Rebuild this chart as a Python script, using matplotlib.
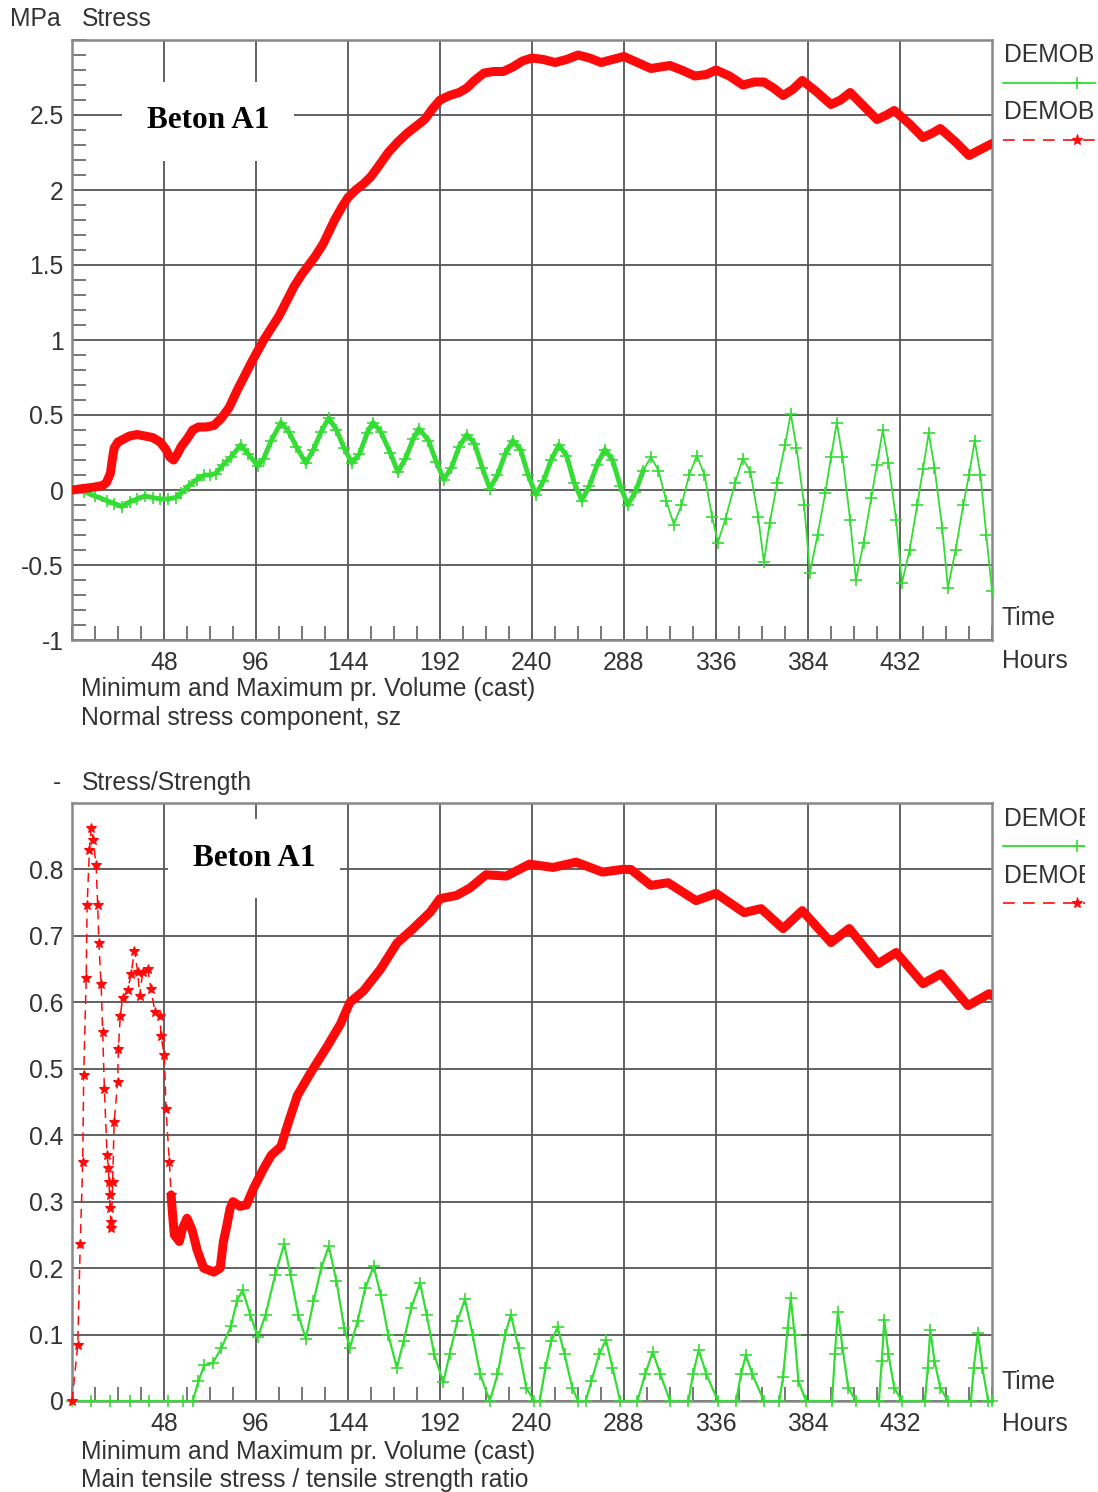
import matplotlib
matplotlib.use("Agg")
import matplotlib.pyplot as plt
from matplotlib.lines import Line2D
from matplotlib.patches import Rectangle
from matplotlib.ticker import MultipleLocator, FixedLocator

# --- data (hours, value) ---
top_red_h = [0, 6, 12, 16, 18, 19, 20, 21, 22, 24, 27, 30, 34, 38, 42, 46, 49, 51, 53, 55,
             57, 60, 63, 66, 70, 74, 78, 82, 86, 90, 94, 97, 100, 104, 108, 112, 116, 120,
             123, 127, 131, 134, 137, 141, 144, 148, 152, 156, 160, 165, 170, 175, 180, 184,
             188, 192, 197, 202, 206, 210, 215, 220, 225, 230, 235, 240, 246, 252, 258, 264,
             270, 276, 282, 288, 295, 302, 307, 312, 318, 325, 331, 336, 343, 350, 356, 361,
             366, 371, 376, 381, 388, 396, 401, 406, 413, 420, 425, 429, 437, 444, 449, 453,
             461, 468, 474, 480]
top_red_v = [0.0, 0.01, 0.02, 0.03, 0.05, 0.08, 0.11, 0.2, 0.28, 0.32, 0.34, 0.36, 0.37, 0.36,
             0.35, 0.32, 0.27, 0.22, 0.2, 0.24, 0.29, 0.34, 0.4, 0.42, 0.42, 0.43, 0.48, 0.55,
             0.66, 0.76, 0.86, 0.93, 1.0, 1.08, 1.16, 1.26, 1.36, 1.44, 1.49, 1.56, 1.64, 1.72,
             1.8, 1.89, 1.95, 2.0, 2.04, 2.09, 2.16, 2.25, 2.32, 2.38, 2.43, 2.47, 2.54, 2.6,
             2.63, 2.65, 2.68, 2.73, 2.78, 2.79, 2.79, 2.82, 2.86, 2.88, 2.87, 2.85, 2.87, 2.9,
             2.88, 2.85, 2.87, 2.89, 2.85, 2.81, 2.82, 2.83, 2.8, 2.76, 2.77, 2.8, 2.76, 2.7,
             2.72, 2.72, 2.68, 2.63, 2.67, 2.73, 2.66, 2.57, 2.6, 2.65, 2.56, 2.47, 2.5, 2.53,
             2.44, 2.35, 2.38, 2.41, 2.32, 2.23, 2.27, 2.31]

top_green_h = [0, 6, 12, 18, 22, 26, 30, 34, 38, 42, 46, 50, 54, 57, 61, 65, 69, 72, 75, 79,
               83, 88, 92, 97, 100, 104, 109, 113, 117, 122, 126, 130, 134, 138, 142, 146, 150,
               154, 157, 161, 166, 170, 174, 178, 181, 186, 190, 194, 198, 202, 206, 210, 214,
               218, 222, 226, 230, 234, 238, 242, 246, 250, 254, 258, 262, 266, 270, 274, 278,
               282, 286, 290, 294, 298, 302, 306, 310, 314, 318, 322, 326, 330, 334, 337, 341,
               346, 350, 354, 358, 361, 364, 368, 372, 375, 378, 382, 385, 389, 393, 396, 399,
               402, 406, 409, 413, 417, 420, 423, 426, 430, 433, 437, 441, 444, 447, 450, 454,
               457, 461, 465, 468, 471, 474, 477, 480]
top_green_v = [0.0, -0.01, -0.04, -0.07, -0.09, -0.11, -0.08, -0.06, -0.04, -0.05, -0.06, -0.06,
               -0.05, -0.02, 0.03, 0.07, 0.1, 0.1, 0.11, 0.17, 0.22, 0.3, 0.24, 0.16, 0.21, 0.33,
               0.45, 0.39, 0.29, 0.18, 0.27, 0.39, 0.48, 0.4, 0.28, 0.18, 0.24, 0.38, 0.45, 0.39,
               0.25, 0.12, 0.21, 0.34, 0.41, 0.33, 0.19, 0.07, 0.15, 0.29, 0.37, 0.31, 0.15, 0.01,
               0.1, 0.24, 0.33, 0.27, 0.1, -0.03, 0.06, 0.2, 0.3, 0.23, 0.05, -0.07, 0.03, 0.17,
               0.27, 0.2, 0.03, -0.1, -0.01, 0.13, 0.22, 0.13, -0.07, -0.23, -0.1, 0.1, 0.23, 0.1,
               -0.18, -0.35, -0.19, 0.05, 0.21, 0.12, -0.18, -0.48, -0.22, 0.05, 0.3, 0.51, 0.28,
               -0.1, -0.55, -0.3, -0.02, 0.22, 0.45, 0.22, -0.2, -0.6, -0.35, -0.05, 0.17, 0.4,
               0.18, -0.2, -0.62, -0.4, -0.1, 0.14, 0.38, 0.15, -0.25, -0.65, -0.4, -0.1, 0.1,
               0.33, 0.1, -0.3, -0.67]

bot_red_h = [0, 3, 4.3, 5.6, 6.1, 7.4, 7.9, 9.1, 10, 11, 12.6, 13.4, 14, 15.2, 16, 16.9, 18.3,
             19.0, 19.3, 19.6, 19.9, 20.2, 20.5, 21.2, 22, 23.8, 24.2, 25.2, 26.4, 29, 30.8,
             32.6, 34.3, 35.3, 36.9, 39.5, 41.2, 43.3, 46, 46.4, 48.2, 49, 50.8, 51.7, 52.5,
             53.4, 56, 57.7, 60, 62.7, 65.3, 68.7, 74, 77.3, 79, 80.7, 82.5, 84, 87.6, 91, 94.7,
             100, 104, 109, 113, 117.6, 124.5, 133, 140, 145, 152, 161, 169.5, 178, 187, 192,
             200.7, 207.6, 216, 226.6, 238.7, 251, 263, 276.8, 287, 291.6, 302, 311, 325.6,
             336, 350.7, 359.5, 371, 381, 396, 405.5, 420.5, 430, 444, 453.4, 467.5, 478.5, 480]
bot_red_v = [0.0, 0.084, 0.236, 0.36, 0.49, 0.636, 0.746, 0.83, 0.863, 0.845, 0.806, 0.746,
             0.69, 0.627, 0.555, 0.47, 0.37, 0.35, 0.33, 0.31, 0.29, 0.27, 0.26, 0.33, 0.42,
             0.48, 0.53, 0.58, 0.606, 0.618, 0.642, 0.678, 0.645, 0.61, 0.645, 0.65, 0.62, 0.585,
             0.58, 0.55, 0.52, 0.44, 0.36, 0.31, 0.28, 0.25, 0.24, 0.26, 0.275, 0.257, 0.227,
             0.2, 0.194, 0.2, 0.24, 0.263, 0.29, 0.3, 0.293, 0.295, 0.32, 0.35, 0.37, 0.383,
             0.42, 0.46, 0.494, 0.533, 0.567, 0.6, 0.617, 0.65, 0.689, 0.711, 0.736, 0.756,
             0.761, 0.772, 0.792, 0.79, 0.808, 0.803, 0.811, 0.796, 0.8, 0.8, 0.776, 0.78,
             0.753, 0.764, 0.735, 0.741, 0.711, 0.738, 0.69, 0.711, 0.658, 0.675, 0.628, 0.643,
             0.595, 0.613, 0.61]

bot_green_h = [0, 10, 20, 30, 40, 50, 58, 63, 66, 69, 73.4, 78, 83, 86, 89, 93, 97, 101, 106,
               110.7, 114, 118, 122, 126, 130, 134, 138, 142, 145, 149, 153, 157.4, 161, 165,
               169.5, 173, 177, 181.6, 185, 189, 193.7, 197, 201, 205, 209, 213, 218, 222, 226,
               229, 233, 237, 241, 244, 247, 250, 253.4, 257, 261, 264, 268, 271, 275, 278.6,
               282, 286, 295, 299, 303, 307, 312, 321.6, 324, 327, 331, 337, 346.5, 349, 351.6,
               355, 361, 369, 371, 373.4, 375, 377, 379, 383, 396.6, 398, 399.6, 402, 405, 409,
               421, 422.5, 423.8, 426, 429, 433, 445, 446.5, 447.8, 450, 453, 457, 469, 470.5,
               472.6, 475, 478, 480]
bot_green_v = [0, 0, 0, 0, 0, 0, 0, 0, 0.03, 0.054, 0.057, 0.08, 0.113, 0.15, 0.167, 0.13,
               0.096, 0.13, 0.19, 0.236, 0.19, 0.13, 0.094, 0.15, 0.2, 0.233, 0.18, 0.11, 0.08,
               0.12, 0.17, 0.203, 0.16, 0.1, 0.05, 0.09, 0.14, 0.178, 0.13, 0.07, 0.028, 0.07,
               0.12, 0.153, 0.1, 0.04, 0.0, 0.04, 0.1, 0.13, 0.08, 0.02, 0.0, 0.0, 0.05, 0.09,
               0.111, 0.07, 0.02, 0.0, 0.0, 0.03, 0.07, 0.092, 0.05, 0.0, 0.0, 0.04, 0.074, 0.04,
               0.0, 0.0, 0.04, 0.077, 0.04, 0.0, 0.0, 0.04, 0.069, 0.04, 0.0, 0.0, 0.036, 0.11,
               0.155, 0.1, 0.03, 0.0, 0.0, 0.07, 0.134, 0.08, 0.02, 0.0, 0.0, 0.06, 0.122, 0.07,
               0.02, 0.0, 0.0, 0.05, 0.107, 0.06, 0.02, 0.0, 0.0, 0.05, 0.102, 0.05, 0.0, 0.0]

x_ticks = [48, 96, 144, 192, 240, 288, 336, 384, 432]
top_yticks = [-1, -0.5, 0, 0.5, 1, 1.5, 2, 2.5]
top_ylabels = ["-1", "-0.5", "0", "0.5", "1", "1.5", "2", "2.5"]
bot_yticks = [0, 0.1, 0.2, 0.3, 0.4, 0.5, 0.6, 0.7, 0.8]
bot_ylabels = ["0", "0.1", "0.2", "0.3", "0.4", "0.5", "0.6", "0.7", "0.8"]

W, H = 1098, 1492
RED = "#ff0a0a"
GREEN = "#33dd33"
TXT = "#333333"
FS = 17.8

plt.rcParams["font.family"] = ["Liberation Sans", "DejaVu Sans"]

fig = plt.figure(figsize=(W / 100, H / 100), dpi=100)


def ftext(x, y, s, **kw):
    kw.setdefault("fontsize", FS)
    kw.setdefault("color", TXT)
    kw.setdefault("va", "center")
    fig.text(x / W, 1 - y / H, s, **kw)


def setup(ax, ylim, yticks, ylabels, yminor):
    ax.set_xlim(0, 480)
    ax.set_ylim(*ylim)
    ax.set_xticks(x_ticks)
    ax.set_xticklabels([str(t) for t in x_ticks])
    ax.set_yticks(yticks)
    ax.set_yticklabels(ylabels)
    ax.xaxis.set_minor_locator(MultipleLocator(12))
    if yminor:
        ax.yaxis.set_minor_locator(MultipleLocator(0.1))
    else:
        ax.yaxis.set_minor_locator(FixedLocator([]))
    ax.tick_params(which="major", length=0, labelsize=FS, labelcolor=TXT)
    ax.tick_params(axis="x", which="major", pad=8)
    ax.tick_params(axis="y", which="major", pad=6)
    ax.tick_params(which="minor", direction="in", length=10, width=1.4, color="#777777")
    ax.tick_params(which="minor", right=False, top=False)
    ax.grid(True, which="major", color="#555555", lw=1.3)
    ax.set_axisbelow(True)
    for sp in ax.spines.values():
        sp.set_color("#888888")
        sp.set_linewidth(1.8)


# ---------------- top panel ----------------
ax1 = fig.add_axes([72 / W, 1 - 640 / H, 920 / W, 600 / H])
setup(ax1, (-1, 3), top_yticks, top_ylabels, True)

n_dense = sum(1 for h in top_green_h if h <= 300)
ax1.plot(top_green_h[:n_dense], top_green_v[:n_dense], color=GREEN, lw=3.5, zorder=3)
ax1.plot(top_green_h, top_green_v, color=GREEN, lw=1.3, marker="+", ms=8, mew=1.2, zorder=3)
ax1.plot(top_red_h, top_red_v, color=RED, lw=6.5, solid_capstyle="round",
         solid_joinstyle="round", zorder=4)

ax1.text(71, 2.46, "Beton A1", family=["Liberation Serif", "DejaVu Serif"], weight="bold",
         fontsize=22.5, ha="center", va="center", zorder=5,
         bbox=dict(boxstyle="square,pad=0.8", fc="white", ec="none"))

# ---------------- bottom panel ----------------
ax2 = fig.add_axes([72 / W, 1 - 1401 / H, 920 / W, 598 / H])
setup(ax2, (0, 0.9), bot_yticks, bot_ylabels, False)

ax2.plot(bot_green_h, bot_green_v, color=GREEN, lw=1.6, marker="+", ms=8, mew=1.2, zorder=3,
         clip_on=False)
n_sparse = sum(1 for h in bot_red_h if h < 51.7)
ax2.plot(bot_red_h[:n_sparse + 1], bot_red_v[:n_sparse + 1], color=RED, lw=1.1,
         dashes=(6, 4), marker="*", ms=7, mew=0.8, zorder=4, clip_on=False)
ax2.plot(bot_red_h[n_sparse:], bot_red_v[n_sparse:], color=RED, lw=6.5, solid_capstyle="round",
         solid_joinstyle="round", zorder=4)

ax2.text(95, 0.816, "Beton A1", family=["Liberation Serif", "DejaVu Serif"], weight="bold",
         fontsize=22.5, ha="center", va="center", zorder=5,
         bbox=dict(boxstyle="square,pad=0.8", fc="white", ec="none"))

# ---------------- texts around the axes ----------------
ftext(10, 19, "MPa")
ftext(82, 19, "Stress")
ftext(81, 689, "Minimum and Maximum pr. Volume (cast)")
ftext(81, 718, "Normal stress component, sz")
ftext(1002, 618, "Time")
ftext(1002, 661, "Hours")

ftext(53, 783, "-")
ftext(82, 783, "Stress/Strength")
ftext(81, 1452, "Minimum and Maximum pr. Volume (cast)")
ftext(81, 1480, "Main tensile stress / tensile strength ratio")
ftext(1002, 1382, "Time")
ftext(1002, 1424, "Hours")

# legend entries on the right (cut by the image edge)
for y_name, y_g, y_r in [(55, 83, 140), (819, 846, 903)]:
    ftext(1004, y_name, "DEMOB")
    ftext(1004, y_name + 57, "DEMOB")
    fig.add_artist(Line2D([1003 / W, 1095 / W], [1 - y_g / H] * 2, color=GREEN, lw=1.3,
                          transform=fig.transFigure))
    fig.add_artist(Line2D([1077 / W], [1 - y_g / H], color=GREEN, marker="+", ms=9, mew=1.2,
                          transform=fig.transFigure))
    fig.add_artist(Line2D([1003 / W, 1095 / W], [1 - y_r / H] * 2, color=RED, lw=1.2,
                          dashes=(7, 5), transform=fig.transFigure))
    fig.add_artist(Line2D([1077 / W], [1 - y_r / H], color=RED, marker="*", ms=8, mew=0.8,
                          transform=fig.transFigure))

# the lower picture is a little narrower
fig.add_artist(Rectangle((1085 / W, 0), 13 / W, 1 - 770 / H, transform=fig.transFigure,
                         fc="white", ec="none", zorder=10))

fig.savefig("out.png", dpi=100)
